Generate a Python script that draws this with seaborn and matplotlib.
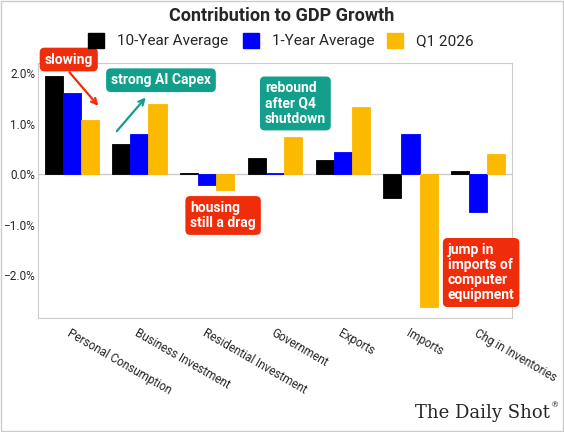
import pandas as pd
import seaborn as sns
import matplotlib.pyplot as plt
from matplotlib.ticker import FuncFormatter
from matplotlib.patches import Rectangle

categories = ["Personal Consumption", "Business Investment", "Residential Investment",
              "Government", "Exports", "Imports", "Chg in Inventories"]
series = ["10-Year Average", "1-Year Average", "Q1 2026"]
ten_year = [1.94, 0.60, 0.02, 0.31, 0.27, -0.47, 0.06]
one_year = [1.60, 0.79, -0.22, 0.03, 0.44, 0.79, -0.76]
q1_2026 = [1.07, 1.39, -0.31, 0.73, 1.33, -2.63, 0.40]
colors = ["#000000", "#0000ff", "#fbb900"]

df = pd.DataFrame({"Category": categories * 3,
                   "Series": sum([[s] * 7 for s in series], []),
                   "Value": ten_year + one_year + q1_2026})

sns.set_style("white")
plt.rcParams["font.family"] = ["Roboto", "DejaVu Sans"]
fig = plt.figure(figsize=(5.64, 4.32), dpi=100)
ax = fig.add_axes([0.067, 0.264, 0.841, 0.59])
sns.barplot(data=df, x="Category", y="Value", hue="Series", palette=colors,
            width=0.8, gap=0, saturation=1, ax=ax, legend=False,
            edgecolor=None, linewidth=0.6)
for p, c in zip(ax.patches, sum([[c] * 7 for c in colors], [])):
    p.set_edgecolor(c)
ax.set_ylim(-2.85, 2.2)
ax.set_xlim(-0.5, 6.5)
ax.set_yticks([-2, -1, 0, 1, 2])
ax.yaxis.set_major_formatter(FuncFormatter(lambda v, p: f"{v:.1f}%".replace("-", "\u2212")))
ax.tick_params(axis="y", labelsize=8.5, length=0, pad=2)
ax.tick_params(axis="x", labelsize=8.5, length=0, pad=6)
ax.set_xticks(range(7))
ax.set_xticklabels(categories, rotation=-30, ha="left", rotation_mode="anchor")
ax.set_xlabel("")
ax.set_ylabel("")
ax.axhline(0, color="#cccccc", lw=1, zorder=0)
for s in ax.spines.values():
    s.set_color("#cccccc")

fig.text(0.5, 0.963, "Contribution to GDP Growth", ha="center", va="center",
         fontsize=13, fontweight="bold")
lx = [0.156, 0.431, 0.686]
for x0, lab, c in zip(lx, series, colors):
    fig.patches.append(Rectangle((x0, 0.888), 0.028, 0.036, color=c, transform=fig.transFigure))
    fig.text(x0 + 0.052, 0.904, lab, va="center", fontsize=11)

def box(x, y, txt, fc):
    ax.text(x, y, txt, fontsize=10, fontweight="bold", color="white", ha="left", va="center",
            linespacing=1.1, clip_on=False,
            bbox=dict(boxstyle="round,pad=0.35", fc=fc, ec="none"))

red, teal = "#f02d0a", "#12a08c"
box(-0.4, 2.27, "slowing", red)
box(0.58, 1.86, "strong AI Capex", teal)
box(2.85, 1.4, "rebound\nafter Q4\nshutdown", teal)
box(1.75, -0.82, "housing\nstill a drag", red)
box(5.55, -1.95, "jump in\nimports of\ncomputer\nequipment", red)
ax.annotate("", xy=(0.42, 1.31), xytext=(-0.06, 2.06),
            arrowprops=dict(arrowstyle="->", color=red, lw=1.6))
ax.annotate("", xy=(1.12, 1.56), xytext=(0.64, 0.81),
            arrowprops=dict(arrowstyle="->", color=teal, lw=1.6))

fig.text(0.975, 0.045, "The Daily Shot", ha="right", va="center", fontsize=13,
         family="DejaVu Serif")
fig.text(0.977, 0.062, "\u00ae", ha="left", va="center", fontsize=6, family="DejaVu Serif")
fig.patches.append(Rectangle((0.002, 0.002), 0.996, 0.996, fill=False, ec="#cccccc",
                             lw=1, transform=fig.transFigure))
fig.savefig("out.png", dpi=100)
